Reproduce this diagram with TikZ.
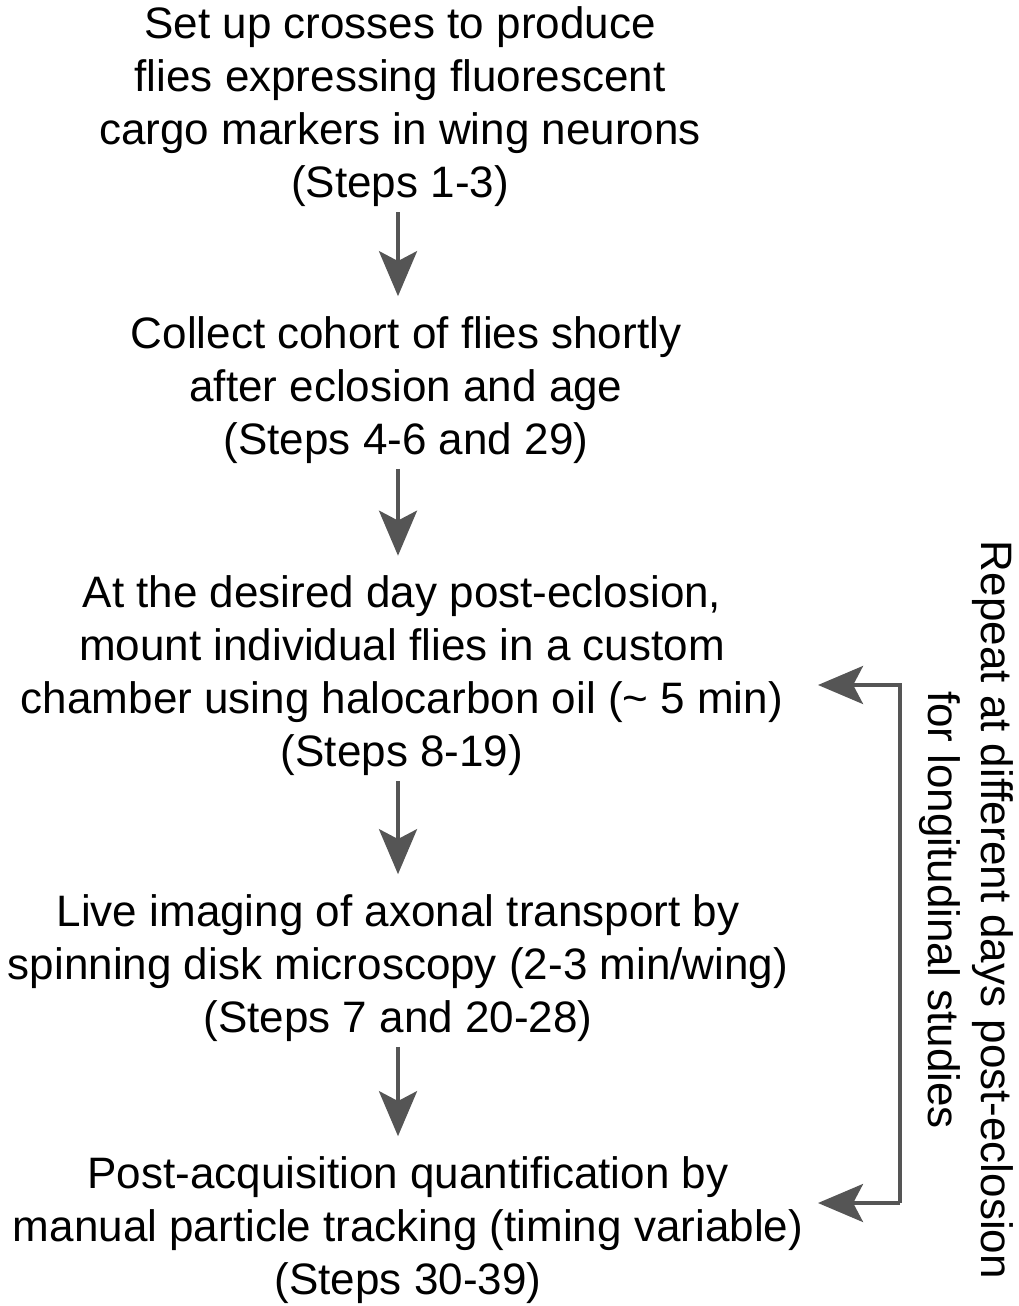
\documentclass[tikz,border=0pt]{standalone}
\usepackage{fontspec}
\setmainfont{Liberation Sans}
\usetikzlibrary{arrows.meta,positioning,calc}
\usepackage{xcolor}
\definecolor{Ink}{HTML}{000000}
\definecolor{Arrow}{HTML}{555555}
\tikzset{
 stepnode/.style={align=center, inner sep=0pt, text=Ink, font=\fontsize{31.3}{37.7}\selectfont},
 arrow/.style={-{Stealth[length=32pt,width=27pt,inset=7pt]}, line width=2.8pt, draw=Arrow},
 sidenote/.style={align=center, inner sep=0pt, rotate=-90, font=\fontsize{31.3}{37.7}\selectfont}
}
\begin{document}
\begin{tikzpicture}[x=0.025cm,y=-0.025cm]
\useasboundingbox (0,0) rectangle (1018,1306);
\node[stepnode] (step1) at (400,107) {Set up crosses to produce\\flies expressing fluorescent\\cargo markers in wing neurons\\(Steps 1-3)};
\node[stepnode] (step2) at (406,390) {Collect cohort of flies shortly\\after eclosion and age\\(Steps 4-6 and 29)};
\node[stepnode] (step3) at (402,676) {At the desired day post-eclosion,\\mount individual flies in a custom\\chamber using halocarbon oil (\char`\~{} 5 min)\\(Steps 8-19)};
\node[stepnode] (step4) at (398,968) {Live imaging of axonal transport by\\spinning disk microscopy (2-3 min/wing)\\(Steps 7 and 20-28)};
\node[stepnode] (step5) at (408,1230) {Post-acquisition quantification by\\manual particle tracking (timing variable)\\(Steps 30-39)};
\node[sidenote] (repeat) at (966,910) {Repeat at different days post-eclosion\\for longitudinal studies};
% down arrows, all on one column
\coordinate (axis) at (398,0);
\foreach \a/\b in {step1/step2,step2/step3,step3/step4,step4/step5}
 \draw[arrow] ($(\a.south -| axis)+(0,5)$) -- ($(\b.north -| axis)+(0,-20)$);
% loop back
\coordinate (bend3) at (900,685);
\coordinate (bend5) at (900,1203);
\coordinate (in3) at (818,685);
\coordinate (in5) at (818,1203);
\draw[arrow] (bend5) -- (bend3) -- (in3);
\draw[arrow] (bend5) -- (in5);
\end{tikzpicture}
\end{document}
